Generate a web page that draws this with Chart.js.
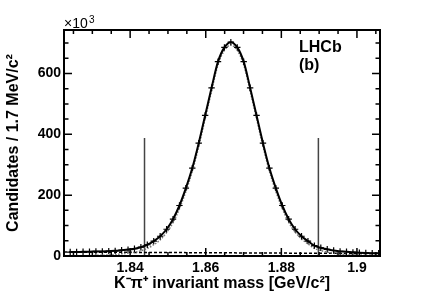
<!DOCTYPE html>
<html>
<head>
<meta charset="utf-8">
<script src="https://cdn.jsdelivr.net/npm/chart.js@4.4.0/dist/chart.umd.min.js"></script>
<style>
  html, body { margin: 0; padding: 0; background: #fff; }
</style>
</head>
<body>
<canvas id="massChart" width="427" height="301"></canvas>
<script>
// binning: 49 bins of 1.7 MeV
const binLow = 1.82329;
const binWidth = 0.0017;

// candidates per bin (x10^3)
const counts = [13, 13, 14, 14, 15, 15, 16, 17, 19, 21, 24, 29, 37, 49, 65, 88, 121, 166, 223, 289,
  371, 462, 553, 639, 686, 703, 686, 639, 553, 462, 371, 289, 223, 166, 121, 88, 65, 49, 34, 27,
  22, 18, 15, 14, 12, 11, 10, 9, 9];

// signal component of the fit (dotted grey)
const signal = [0, 0, 1, 1, 2, 2.5, 3.5, 4.5, 7, 9, 12, 17, 25, 37, 53, 77, 110, 155, 212, 278,
  360, 451, 542, 629, 676, 693, 676, 629, 543, 452, 361, 279, 213, 156, 111, 79, 56, 40, 25, 18,
  13, 9, 6.5, 5.5, 3.5, 2.5, 2, 1, 1];

// background component (dashed), at the two ends of the range
const bkgMass = [1.8225, 1.9061];
const bkgValues = [13, 8];

// signal window lines
const windowLines = [1.8438, 1.8898];
const windowTop = 388;

const xMin = 1.8225, xMax = 1.9061;
const yMin = 0, yMax = 743;
const xTicks = [1.84, 1.86, 1.88, 1.9];
const yTicks = [0, 200, 400, 600];

const FONT = "'Liberation Sans', Arial, Helvetica, sans-serif";

function toPoints(vals) {
    let pts = [];
    for (let i = 0; i < vals.length; i++) {
        pts.push({ x: binLow + binWidth * (i + 0.5), y: vals[i] });
    }
    return pts;
}

// ROOT style frame with ticks pointing inwards on all four sides
const rootFrame = {
    id: 'rootFrame',
    afterDatasetsDraw(chart) {
        const ctx = chart.ctx;
        const a = chart.chartArea;
        const x = chart.scales.x, y = chart.scales.y;
        ctx.save();
        ctx.strokeStyle = '#000';
        ctx.lineWidth = 1.5;
        ctx.beginPath();
        for (let k = Math.ceil(xMin / 0.005); k * 0.005 <= xMax + 1e-9; k++) {
            const px = x.getPixelForValue(k * 0.005);
            const len = (k % 4 === 0) ? 8 : 4;
            ctx.moveTo(px, a.bottom); ctx.lineTo(px, a.bottom - len);
            ctx.moveTo(px, a.top); ctx.lineTo(px, a.top + len);
        }
        for (let k = 0; k * 50 <= yMax; k++) {
            const py = y.getPixelForValue(k * 50);
            const len = (k % 4 === 0) ? 8 : 4.5;
            ctx.moveTo(a.left, py); ctx.lineTo(a.left + len, py);
            ctx.moveTo(a.right, py); ctx.lineTo(a.right - len, py);
        }
        ctx.stroke();
        ctx.lineWidth = 2;
        ctx.strokeRect(a.left, a.top, a.right - a.left, a.bottom - a.top);

        ctx.fillStyle = '#000';
        ctx.textBaseline = 'alphabetic';
        ctx.textAlign = 'left';
        ctx.font = '14px ' + FONT;
        ctx.fillText('\u00d710', a.left, 28);
        ctx.font = '10px ' + FONT;
        ctx.fillText('3', a.left + ctx.measureText('x').width + 20, 23);
        ctx.font = 'bold 16px ' + FONT;
        ctx.fillText('LHCb', 299, 52);
        ctx.fillText('(b)', 299, 70);
        ctx.restore();
    }
};

const chart = new Chart(document.getElementById('massChart'), {
    type: 'line',
    data: {
        datasets: [
            {
                type: 'scatter',
                data: toPoints(counts),
                pointStyle: 'cross',
                pointRadius: 3.2,
                borderColor: '#000',
                borderWidth: 1.2,
                showLine: false
            },
            {
                data: toPoints(counts),
                borderColor: '#000',
                borderWidth: 2,
                pointRadius: 0,
                cubicInterpolationMode: 'monotone'
            },
            {
                data: toPoints(signal),
                borderColor: '#777',
                borderWidth: 1.5,
                borderDash: [1.5, 1.5],
                pointRadius: 0,
                cubicInterpolationMode: 'monotone'
            },
            {
                data: bkgMass.map((m, i) => ({ x: m, y: bkgValues[i] })),
                borderColor: '#000',
                borderWidth: 1.5,
                borderDash: [3, 2],
                pointRadius: 0
            },
            {
                data: [{ x: windowLines[0], y: 0 }, { x: windowLines[0], y: windowTop }],
                borderColor: '#444',
                borderWidth: 1.5,
                pointRadius: 0
            },
            {
                data: [{ x: windowLines[1], y: 0 }, { x: windowLines[1], y: windowTop }],
                borderColor: '#444',
                borderWidth: 1.5,
                pointRadius: 0
            }
        ]
    },
    options: {
        responsive: false,
        animation: false,
        devicePixelRatio: 1,
        layout: { padding: { left: 0, top: 30, right: 47, bottom: 0 } },
        plugins: { legend: { display: false }, tooltip: { enabled: false } },
        scales: {
            x: {
                type: 'linear',
                min: xMin,
                max: xMax,
                afterFit: function (scale) { scale.height = 45; },
                afterBuildTicks: function (scale) { scale.ticks = xTicks.map(v => ({ value: v })); },
                grid: { display: false, drawTicks: false },
                border: { display: false },
                ticks: {
                    padding: 4,
                    color: '#000',
                    font: { family: FONT, size: 14, weight: 'bold' },
                    callback: v => String(+v.toFixed(2))
                },
                title: {
                    display: true,
                    text: 'K\u207b\u03c0\u207a invariant mass [GeV/c\u00b2]',
                    color: '#000',
                    font: { family: FONT, size: 16, weight: 'bold' },
                    padding: { top: 0, bottom: 8 }
                }
            },
            y: {
                type: 'linear',
                min: yMin,
                max: yMax,
                afterFit: function (scale) { scale.width = 64; },
                afterBuildTicks: function (scale) { scale.ticks = yTicks.map(v => ({ value: v })); },
                grid: { display: false, drawTicks: false },
                border: { display: false },
                ticks: {
                    padding: 3,
                    color: '#000',
                    font: { family: FONT, size: 14, weight: 'bold' }
                },
                title: {
                    display: true,
                    text: 'Candidates / 1.7 MeV/c\u00b2',
                    color: '#000',
                    font: { family: FONT, size: 16, weight: 'bold' },
                    padding: { top: 4, bottom: 0 }
                }
            }
        }
    },
    plugins: [rootFrame]
});
</script>
</body>
</html>
